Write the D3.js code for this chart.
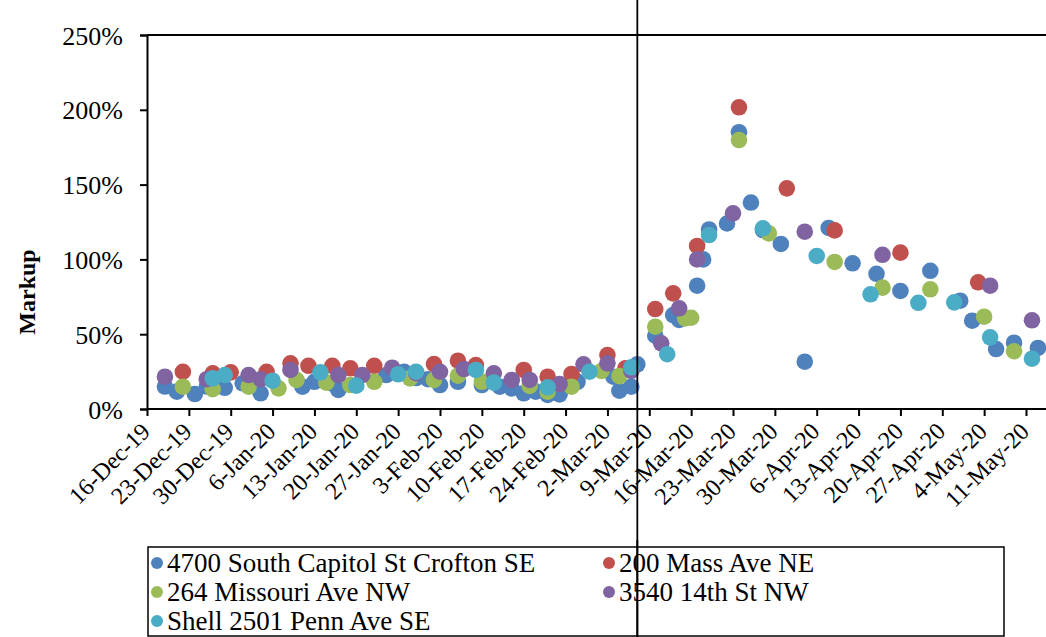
<!DOCTYPE html>
<html><head><meta charset="utf-8">
<script src="https://cdn.jsdelivr.net/npm/d3@7"></script>
<style>
body{margin:0;background:#fff;overflow:hidden}
text{font-family:"Liberation Serif","Times New Roman",serif;fill:#000}
</style>
</head><body><svg id="c" width="1046" height="637"></svg>
<script>
const seriesNames = ["4700 South Capitol St Crofton SE","200 Mass Ave NE","264 Missouri Ave NW","3540 14th St NW","Shell 2501 Penn Ave SE"];
const seriesColors = ["#4F81BD","#C0504D","#9BBB59","#8064A2","#4BACC6"];
const xTickLabels = ["16-Dec-19","23-Dec-19","30-Dec-19","6-Jan-20","13-Jan-20","20-Jan-20","27-Jan-20","3-Feb-20","10-Feb-20","17-Feb-20","24-Feb-20","2-Mar-20","9-Mar-20","16-Mar-20","23-Mar-20","30-Mar-20","6-Apr-20","13-Apr-20","20-Apr-20","27-Apr-20","4-May-20","11-May-20"];
const yTickValues = [0,50,100,150,200,250];
const markerDate = "2020-03-07";

const capitolSt = [["2019-12-19",15],["2019-12-21",11.6],["2019-12-24",10],["2019-12-26",15],["2019-12-29",14.2],["2020-01-01",17.2],["2020-01-04",10.5],["2020-01-11",14.9],["2020-01-13",18.2],["2020-01-16",17],["2020-01-17",12.7],["2020-01-25",22.7],["2020-01-28",24.9],["2020-01-30",20.7],["2020-02-01",19.9],["2020-02-03",16],["2020-02-06",18.2],["2020-02-10",16],["2020-02-13",14.9],["2020-02-15",13.8],["2020-02-17",10.5],["2020-02-19",11.6],["2020-02-21",9.4],["2020-02-23",9.8],["2020-02-26",18.2],["2020-03-03",21.6],["2020-03-04",12.2],["2020-03-06",14.9],["2020-03-07",29.9],["2020-03-10",49],["2020-03-13",62.8],["2020-03-14",59.5],["2020-03-17",82.4],["2020-03-18",100],["2020-03-19",120],["2020-03-22",124],["2020-03-24",185],["2020-03-26",138],["2020-03-28",119.6],["2020-03-31",110.3],["2020-04-04",31.6],["2020-04-08",121],["2020-04-12",97.4],["2020-04-16",90.4],["2020-04-20",78.9],["2020-04-25",92.4],["2020-04-30",72.4],["2020-05-02",59],["2020-05-06",40.1],["2020-05-09",44.3],["2020-05-13",40.8]];
const massAve = [["2019-12-22",24.9],["2019-12-27",23.9],["2019-12-30",24.5],["2020-01-05",24.9],["2020-01-09",30.5],["2020-01-12",28.9],["2020-01-16",28.9],["2020-01-19",27.2],["2020-01-23",28.9],["2020-02-02",30],["2020-02-06",32.3],["2020-02-09",29.4],["2020-02-17",26.1],["2020-02-21",21.6],["2020-02-25",23.4],["2020-03-02",36.1],["2020-03-05",27.2],["2020-03-10",66.8],["2020-03-13",77.3],["2020-03-17",109],["2020-03-24",201.7],["2020-04-01",147.5],["2020-04-09",119.4],["2020-04-20",104.5],["2020-05-03",84.7]];
const missouriAve = [["2019-12-22",14.9],["2019-12-27",13.2],["2020-01-02",14.9],["2020-01-07",13.8],["2020-01-10",19.4],["2020-01-15",17.6],["2020-01-19",16],["2020-01-23",18.2],["2020-01-29",20.5],["2020-02-02",19.4],["2020-02-06",22.3],["2020-02-10",18.2],["2020-02-18",15.4],["2020-02-21",11.6],["2020-02-25",14.9],["2020-03-01",25.4],["2020-03-04",22],["2020-03-10",55],["2020-03-15",60.6],["2020-03-16",61],["2020-03-24",179.8],["2020-03-29",117.4],["2020-04-09",98.3],["2020-04-17",81.1],["2020-04-25",80],["2020-05-04",61.7],["2020-05-09",38.6]];
const fourteenthSt = [["2019-12-19",21.6],["2019-12-26",19.9],["2020-01-02",22.7],["2020-01-04",19.9],["2020-01-09",26.1],["2020-01-17",22.7],["2020-01-21",22.7],["2020-01-26",27.6],["2020-01-30",24],["2020-02-03",24.9],["2020-02-07",26.7],["2020-02-12",23.9],["2020-02-15",19.4],["2020-02-18",19.4],["2020-02-23",16.7],["2020-02-27",29.9],["2020-03-02",30.5],["2020-03-06",25.4],["2020-03-11",43.9],["2020-03-14",67.3],["2020-03-17",100],["2020-03-23",130.8],["2020-04-04",118.5],["2020-04-17",103.1],["2020-05-05",82.4],["2020-05-12",59.3]];
const shellPenn = [["2019-12-27",20.5],["2019-12-29",22.7],["2020-01-06",18.9],["2020-01-14",24.5],["2020-01-20",15.6],["2020-01-27",23.2],["2020-01-30",24.9],["2020-02-09",26.1],["2020-02-12",17.6],["2020-02-21",14.5],["2020-02-28",24.9],["2020-03-06",27.9],["2020-03-12",36.6],["2020-03-19",116.3],["2020-03-28",120.8],["2020-04-06",102.3],["2020-04-15",76.7],["2020-04-23",71],["2020-04-29",71.3],["2020-05-05",47.9],["2020-05-12",33.6]];

const allSeries = [capitolSt, massAve, missouriAve, fourteenthSt, shellPenn];

const parseISO = d3.timeParse("%Y-%m-%d");
const parseTick = d3.timeParse("%d-%b-%y");
const tickDates = xTickLabels.map(parseTick);

const svg = d3.select("#c");
const L = 147, T = 35, B = 409, R = 1046;

const x = d3.scaleTime().domain([tickDates[0], tickDates[tickDates.length-1]]).range([L, 1026]);
const y = d3.scaleLinear().domain([0, 250]).range([B, T]);

// plot frame top
svg.append("line").attr("x1", L).attr("x2", R+5).attr("y1", T).attr("y2", T).attr("stroke", "#000").attr("stroke-width", 2);

// y axis
const yAxis = svg.append("g").attr("transform", `translate(${L},0)`)
  .call(d3.axisLeft(y).tickValues(yTickValues).tickFormat(d => d + "%").tickSize(7).tickPadding(17));
yAxis.select(".domain").attr("stroke-width", 2);
yAxis.selectAll(".tick line").attr("stroke-width", 2);
yAxis.selectAll("text").style("font-size", "26px").attr("dy", "0.35em");

// x axis
const xAxis = svg.append("g").attr("transform", `translate(0,${B})`)
  .call(d3.axisBottom(x).tickValues(tickDates).tickFormat(d3.timeFormat("%-d-%b-%y")).tickSize(7).tickSizeOuter(0));
xAxis.select(".domain").attr("d", `M${L},0H${R+5}`).attr("stroke-width", 2);
xAxis.selectAll(".tick line").attr("stroke-width", 2);
xAxis.selectAll("text")
  .style("font-size", "24px")
  .attr("text-anchor", "end")
  .attr("dy", "0.7em")
  .attr("y", 0)
  .attr("transform", "translate(-8,12) rotate(-45)");

// y title
svg.append("text").attr("transform", "translate(27,292) rotate(-90)")
  .attr("text-anchor", "middle").attr("dy", "0.35em")
  .style("font-size", "24px").style("font-weight", "bold").text("Markup");

// points
allSeries.forEach((s, i) => {
  svg.append("g").selectAll("circle").data(s).join("circle")
    .attr("cx", d => x(parseISO(d[0])))
    .attr("cy", d => y(d[1]))
    .attr("r", 8.3)
    .attr("fill", seriesColors[i]);
});

// vertical marker line
const mx = x(parseISO(markerDate));
svg.append("line").attr("x1", mx).attr("x2", mx).attr("y1", 0).attr("y2", 637).attr("stroke", "#000").attr("stroke-width", 1.8);

// legend
const lg = svg.append("g");
lg.append("rect").attr("x", 148).attr("y", 547).attr("width", 856).attr("height", 89)
  .attr("fill", "none").attr("stroke", "#000").attr("stroke-width", 1.5);
const colX = [157, 609], rowY = [563, 592, 621];
seriesNames.forEach((n, i) => {
  const cx = colX[i % 2], cy = rowY[Math.floor(i / 2)];
  lg.append("circle").attr("cx", cx).attr("cy", cy).attr("r", 6).attr("fill", seriesColors[i]);
  lg.append("text").attr("x", cx + 10).attr("y", cy).attr("dy", "0.35em").style("font-size", "27px").text(n);
});
// marker line over legend
svg.append("line").attr("x1", mx).attr("x2", mx).attr("y1", 540).attr("y2", 637).attr("stroke", "#000").attr("stroke-width", 1.8);
</script>
</body></html>
